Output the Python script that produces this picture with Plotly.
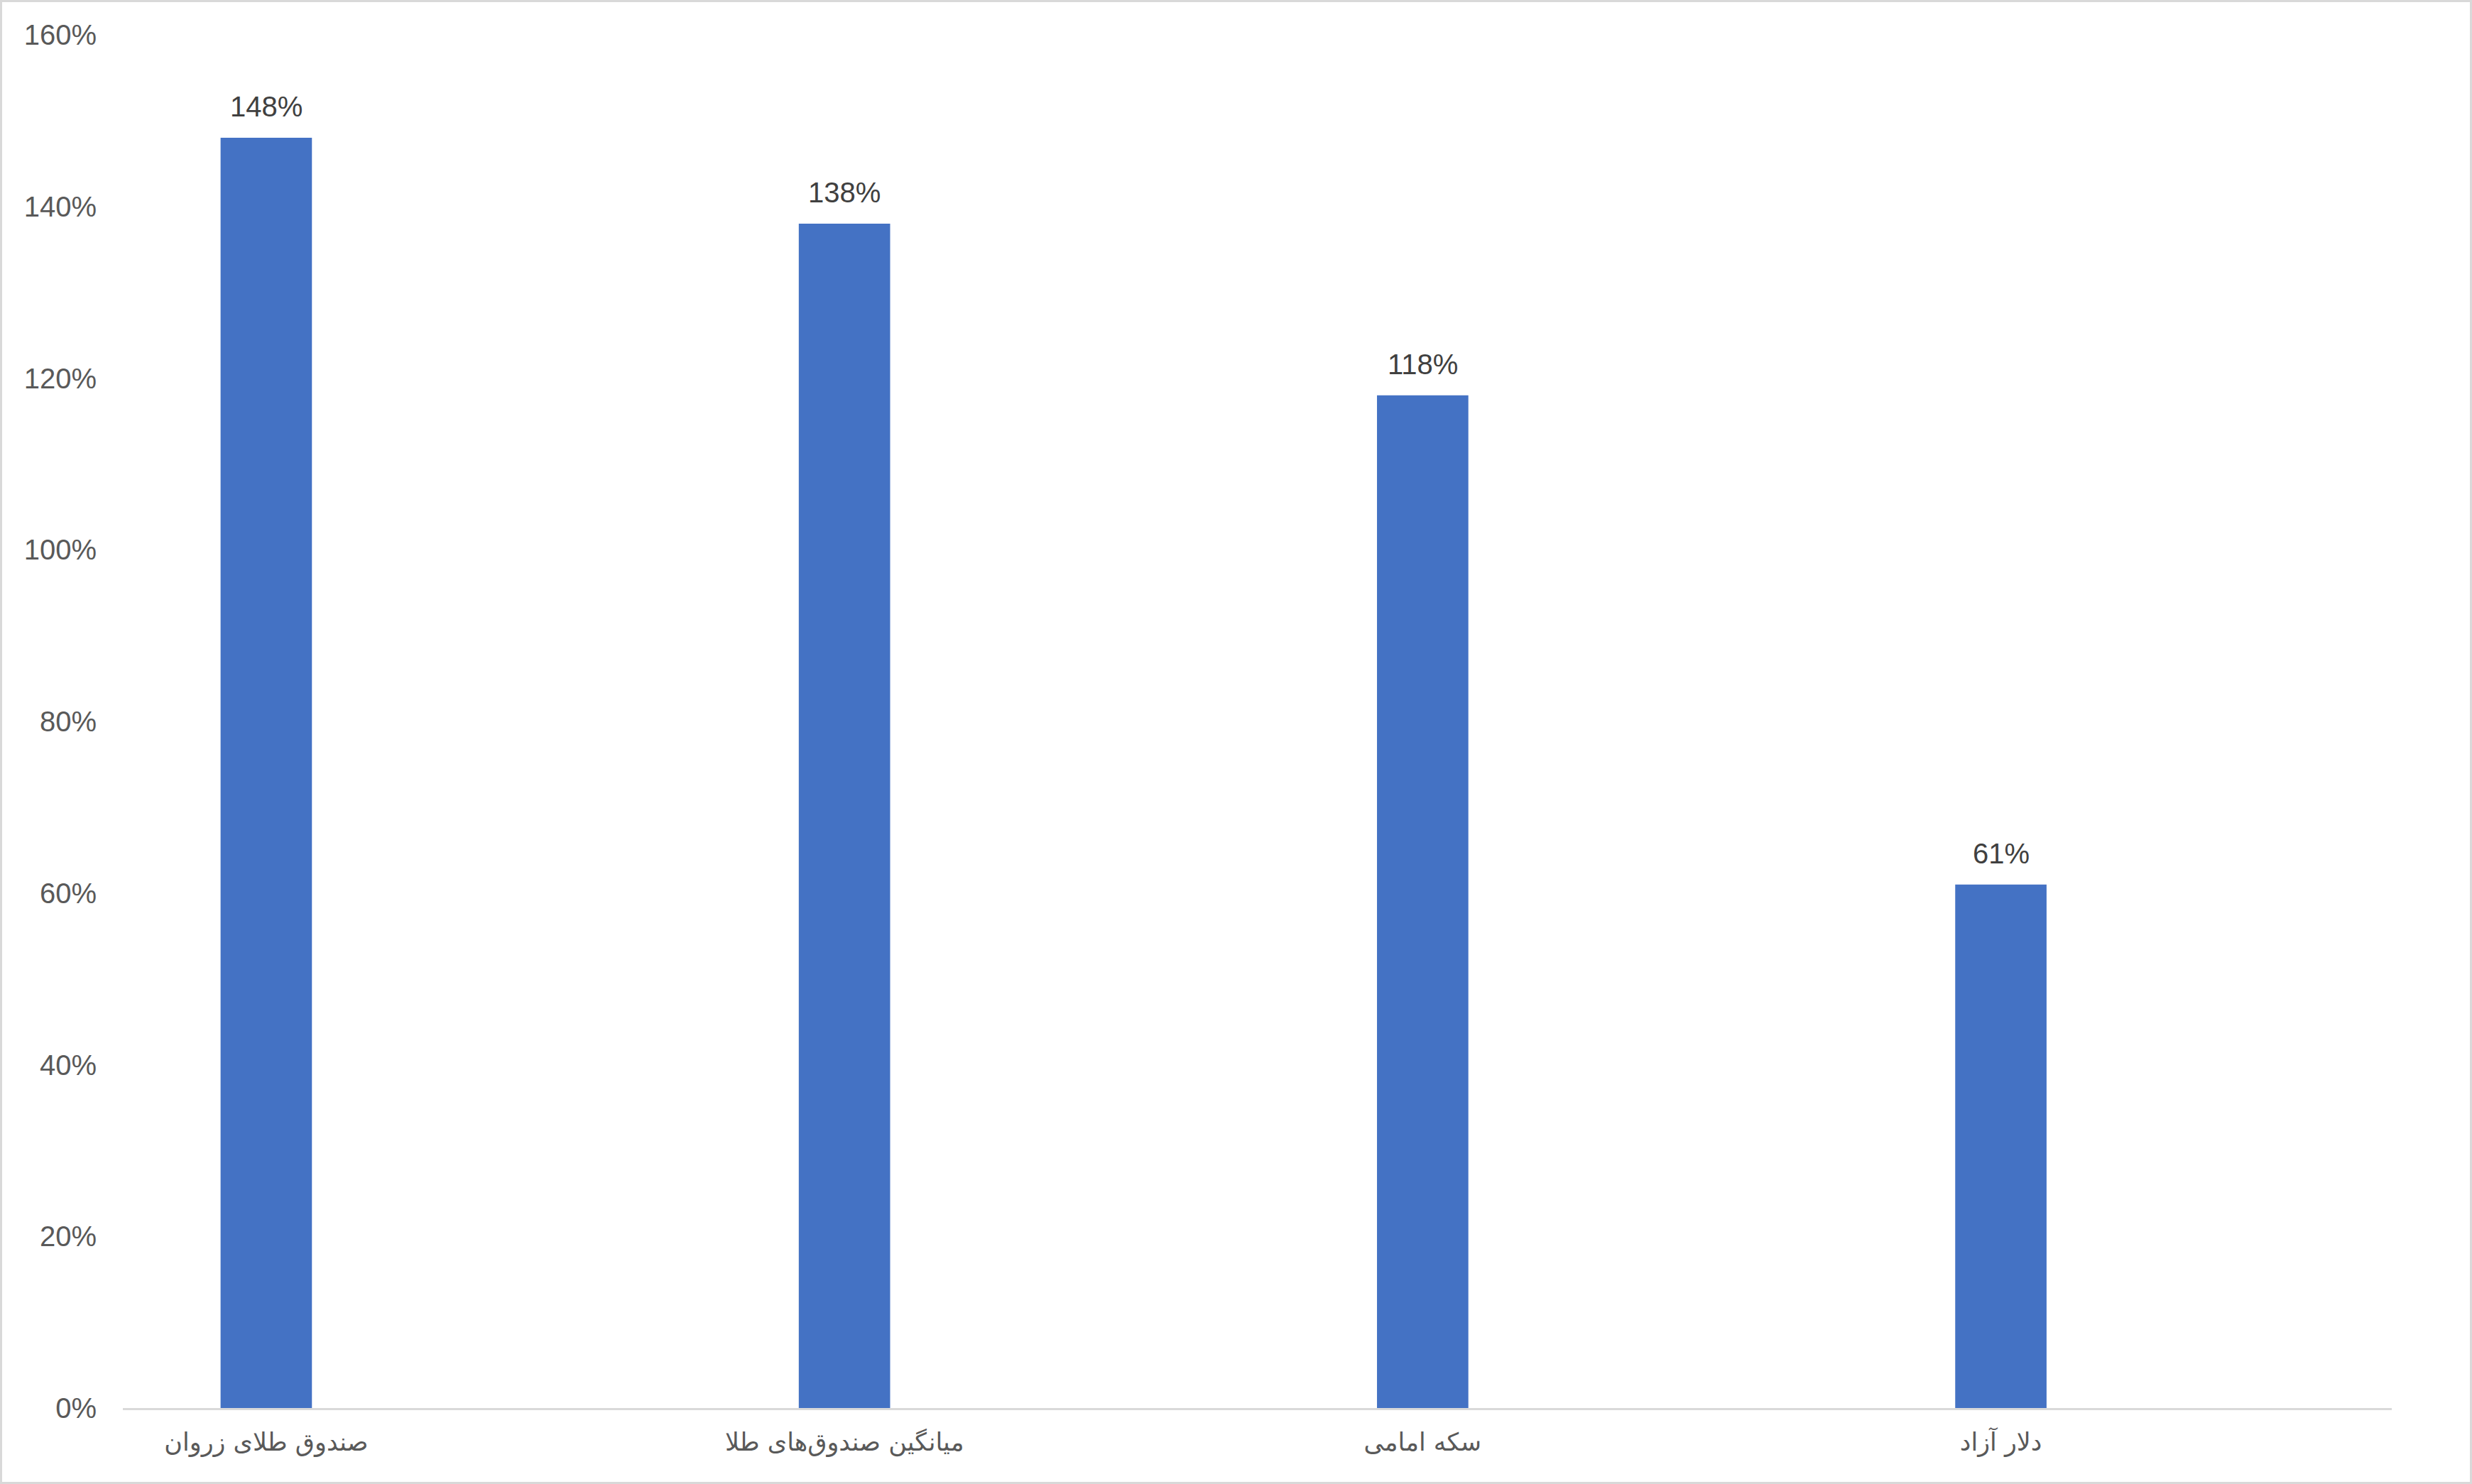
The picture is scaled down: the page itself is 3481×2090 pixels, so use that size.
import plotly.graph_objects as go

categories = ["صندوق طلای زروان", "میانگین صندوق‌های طلا", "سکه امامی", "دلار آزاد"]
values = [1.48, 1.38, 1.18, 0.61]
y_ticks = [0, 0.2, 0.4, 0.6, 0.8, 1.0, 1.2, 1.4, 1.6]

W, H = 3481, 2090
ml, mr, mt, mb = 173, 113, 49, 107
pw = W - ml - mr
ph = H - mt - mb

fig = go.Figure()
fig.add_trace(go.Bar(
    x=list(range(len(categories))),
    y=values,
    width=0.158,
    marker=dict(color="#4472C4", line=dict(width=0)),
))

annotations = [
    dict(x=i, y=v, xref="x", yref="y", text=f"{round(v * 100)}%",
         showarrow=False, yanchor="bottom", yshift=20,
         font=dict(family="Liberation Sans, Arial, sans-serif", size=40, color="#404040"))
    for i, v in enumerate(values)
]

fig.update_layout(
    width=W, height=H,
    margin=dict(l=ml, r=mr, t=mt, b=mb),
    paper_bgcolor="white",
    plot_bgcolor="white",
    showlegend=False,
    font=dict(family="Liberation Sans, DejaVu Sans, Arial, sans-serif", color="#595959"),
    xaxis=dict(
        tickmode="array",
        tickvals=list(range(len(categories))),
        ticktext=categories,
        range=[-0.248, 3.676],
        showline=True, linecolor="#D9D9D9", linewidth=3,
        showgrid=False, zeroline=False, ticks="",
        tickfont=dict(size=35, color="#595959", family="DejaVu Sans, Liberation Sans, sans-serif"),
        ticklabelstandoff=15,
    ),
    yaxis=dict(
        range=[0, 1.6],
        tickmode="array",
        tickvals=y_ticks,
        tickformat=".0%",
        showgrid=False, zeroline=False, showline=False, ticks="",
        tickfont=dict(size=40, color="#595959"),
        ticklabelstandoff=36,
    ),
    annotations=annotations,
    shapes=[dict(
        type="rect", xref="paper", yref="paper",
        x0=(1.5 - ml) / pw, x1=1 + (mr - 1.5) / pw,
        y0=-(mb - 1.5) / ph, y1=1 + (mt - 1.5) / ph,
        line=dict(color="#D9D9D9", width=3),
    )],
)

fig.write_html("out.html")
